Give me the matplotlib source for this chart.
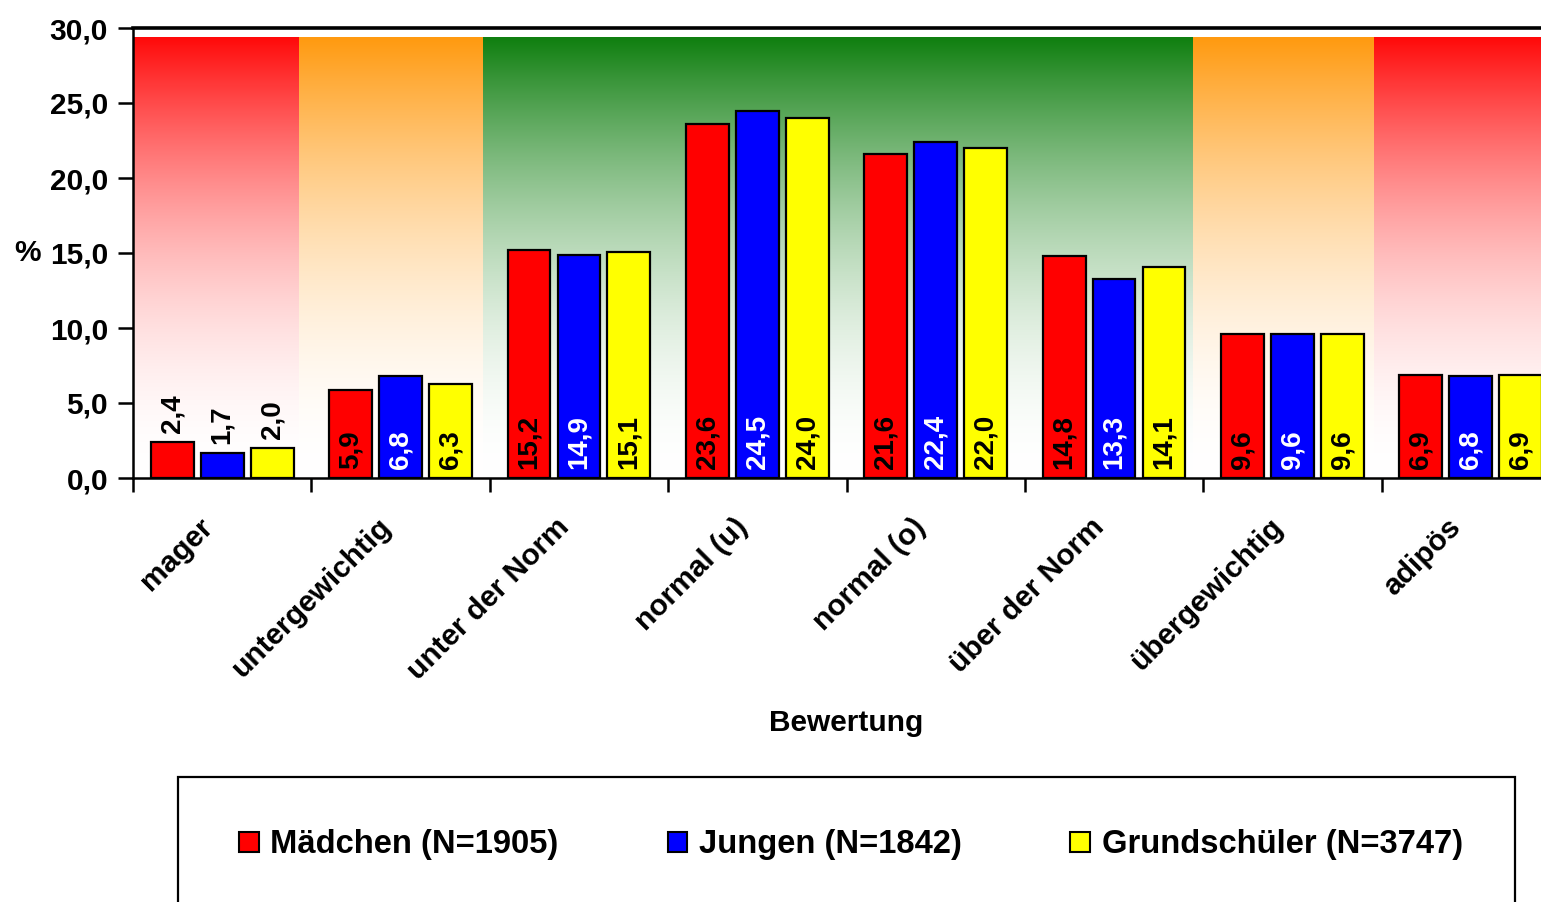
import numpy as np
import matplotlib
matplotlib.use('Agg')
import matplotlib.pyplot as plt
import matplotlib.transforms as mtransforms
from matplotlib.patches import Patch, Rectangle

plt.rcParams['font.family'] = ['Liberation Sans', 'DejaVu Sans']
plt.rcParams['font.weight'] = 'bold'

# Data
categories = ['mager', 'untergewichtig', 'unter der Norm', 'normal (u)',
              'normal (o)', 'über der Norm', 'übergewichtig', 'adipös']
maedchen = [2.4, 5.9, 15.2, 23.6, 21.6, 14.8, 9.6, 6.9]
jungen = [1.7, 6.8, 14.9, 24.5, 22.4, 13.3, 9.6, 6.8]
grundschueler = [2.0, 6.3, 15.1, 24.0, 22.0, 14.1, 9.6, 6.9]
series_names = ['Mädchen (N=1905)', 'Jungen (N=1842)', 'Grundschüler (N=3747)']
series_colors = ['#FF0000', '#0000FF', '#FFFF00']
label_colors = ['black', 'white', 'black']

# background zones (edges in category units) and their top colours
zone_edges = [-0.5, 0.43, 1.46, 5.44, 6.46, 7.5]
zone_colors = ['#FF0A0A', '#FF9A10', '#107F10', '#FF9A10', '#FF0A0A']
zone_top = 29.4

W, H = 1541, 902
fig = plt.figure(figsize=(W / 100, H / 100), dpi=100)
# axes runs past the right edge of the figure like in the original
ax = fig.add_axes([133 / W, 1 - 478 / H, 1427 / W, 450 / H])

# gradient zones, fading to white at the bottom
t = np.linspace(0, 1, 256) ** 1.9
for x0, x1, c in zip(zone_edges[:-1], zone_edges[1:], zone_colors):
    rgb = np.array(matplotlib.colors.to_rgb(c))
    img = 1 - t[:, None] * (1 - rgb[None, :])
    ax.imshow(img[:, None, :], extent=[x0, x1, 0, zone_top], origin='lower',
              aspect='auto', zorder=0, interpolation='bilinear')

x = np.arange(len(categories))
width = 0.24
offsets = [-0.28, 0.0, 0.28]
for vals, off, col, lcol in zip([maedchen, jungen, grundschueler], offsets,
                                series_colors, label_colors):
    ax.bar(x + off, vals, width=width, color=col, edgecolor='black',
           linewidth=1.6, zorder=3)
    for xi, v in zip(x + off, vals):
        txt = f'{v:.1f}'.replace('.', ',')
        if v < 4:
            ax.text(xi, v + 0.6, txt, rotation=90, ha='center', va='bottom',
                    fontsize=20, fontweight='bold', color='black', zorder=4)
        else:
            ax.text(xi, 0.6, txt, rotation=90, ha='center', va='bottom',
                    fontsize=20, fontweight='bold', color=lcol, zorder=4)

ax.set_xlim(-0.5, 7.5)
ax.set_ylim(0, 30)
ax.set_yticks(np.arange(0, 30.1, 5))
ax.set_yticklabels([f'{v:.1f}'.replace('.', ',') for v in np.arange(0, 30.1, 5)])
ax.tick_params(axis='y', length=11, width=1.8, labelsize=21.5, pad=7)

ax.set_xticks(x)
ax.set_xticklabels(categories, rotation=45, ha='right', rotation_mode='anchor',
                   fontsize=21.5, fontweight='bold')
ax.set_xticks(np.arange(-0.5, 8, 1), minor=True)
ax.tick_params(axis='x', which='major', length=0, pad=22)
ax.tick_params(axis='x', which='minor', length=10, width=1.8)
shift = mtransforms.ScaledTranslation(-0.24, -0.04, fig.dpi_scale_trans)
for lab in ax.get_xticklabels():
    lab.set_transform(lab.get_transform() + shift)

for s in ['left', 'bottom']:
    ax.spines[s].set_linewidth(1.8)
ax.spines['top'].set_linewidth(2.6)
ax.spines['right'].set_visible(False)

ax.set_ylabel('%', rotation=0, fontsize=21.5, fontweight='bold', va='center')
ax.yaxis.set_label_coords(-0.074, 0.5)
ax.set_xlabel('Bewertung', fontsize=21.5, fontweight='bold', va='center')
ax.xaxis.set_label_coords(0.5, -0.544)

# legend box
fig.patches.append(Rectangle((178 / W, -0.05), 1337 / W, 1 - 777 / H + 0.05,
                             transform=fig.transFigure, fill=False,
                             edgecolor='black', linewidth=1.6))
handles = [Patch(facecolor=c, edgecolor='black', linewidth=1.5) for c in series_colors]
fig.legend(handles, series_names, loc='center', bbox_to_anchor=(851 / W, 1 - 845 / H),
           ncol=3, frameon=False, handlelength=0.6, handleheight=0.6,
           handletextpad=0.35, columnspacing=3.32, prop={'weight': 'bold', 'size': 23.6})

fig.savefig('out.png', dpi=100)
